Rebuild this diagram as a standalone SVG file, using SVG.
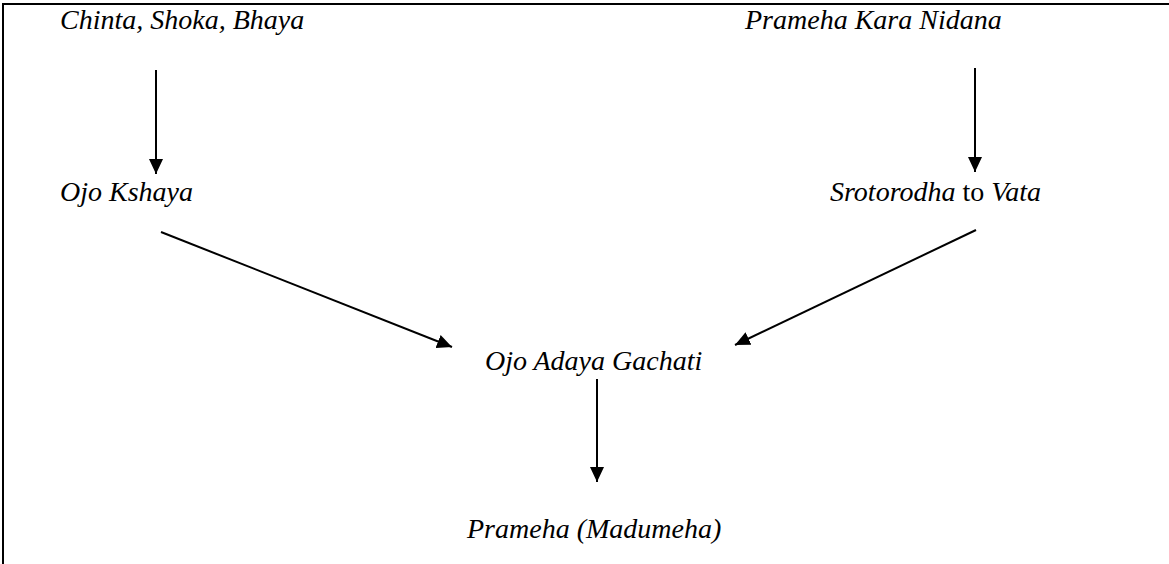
<svg xmlns="http://www.w3.org/2000/svg" width="1169" height="564" viewBox="0 0 1169 564">
<style>
.t{font-family:"Liberation Serif","Times New Roman",serif;font-size:28px;font-style:italic;fill:#000}
.n{font-style:normal}
.c{stroke:#000;stroke-width:2;fill:none}
</style>
<defs>
<marker id="ah" markerUnits="userSpaceOnUse" markerWidth="16" markerHeight="14" viewBox="0 0 16 14" refX="15" refY="7" orient="auto">
<path d="M0,0 L15,7 L0,14 Z" fill="#000"/>
</marker>
</defs>
<rect width="1169" height="564" fill="#fff"/>
<g id="border">
<line x1="2" y1="4" x2="1169" y2="4" stroke="#000" stroke-width="2"/>
<line x1="3" y1="3" x2="3" y2="564" stroke="#000" stroke-width="2"/>
</g>
<g id="connectors">
<line class="c" x1="156" y1="70" x2="156" y2="174" marker-end="url(#ah)"/>
<line class="c" x1="975" y1="68" x2="975" y2="172" marker-end="url(#ah)"/>
<line class="c" x1="161" y1="232" x2="452" y2="347" marker-end="url(#ah)"/>
<line class="c" x1="976" y1="230" x2="735" y2="345" marker-end="url(#ah)"/>
<line class="c" x1="597" y1="379" x2="597" y2="482" marker-end="url(#ah)"/>
</g>
<g id="n1"><text class="t" x="60" y="29">Chinta, Shoka, Bhaya</text></g>
<g id="n2"><text class="t" x="745" y="29">Prameha Kara Nidana</text></g>
<g id="n3"><text class="t" x="60" y="201">Ojo Kshaya</text></g>
<g id="n4"><text class="t" x="830" y="201">Srotorodha<tspan class="n"> to </tspan>Vata</text></g>
<g id="n5"><text class="t" x="485" y="370">Ojo Adaya Gachati</text></g>
<g id="n6"><text class="t" x="467" y="538">Prameha (Madumeha)</text></g>
</svg>
